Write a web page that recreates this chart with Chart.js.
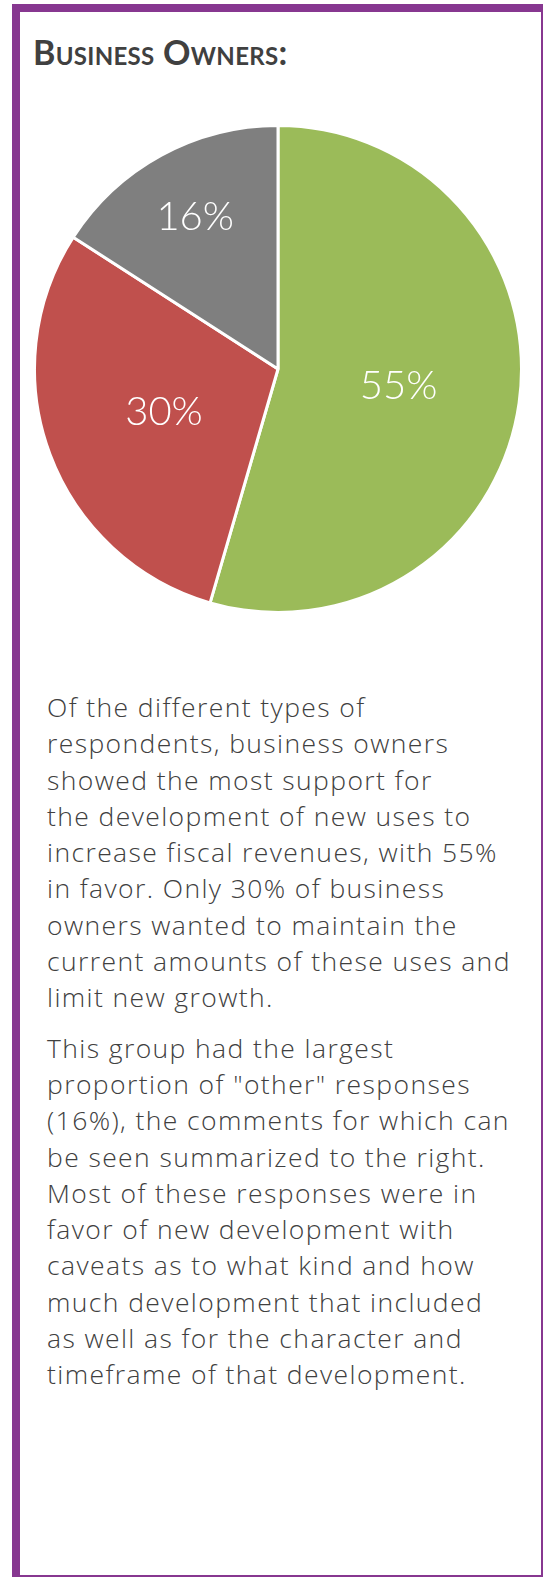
<!DOCTYPE html>
<html>
<head>
<meta charset="utf-8">
<script src="https://cdn.jsdelivr.net/npm/chart.js@4"></script>
<style>
  html, body { margin: 0; padding: 0; background: #fff; }
  body { width: 543px; height: 1577px; position: relative; overflow: hidden; }
  .panel {
    position: absolute; left: 12px; top: 4px; width: 521px; height: 1563px;
    border-left: 8px solid #873790; border-top: 8px solid #873790;
    border-right: 2px solid #873790; border-bottom: 2px solid #873790;
  }
  h2 {
    position: absolute; left: 13px; top: 19px; margin: 0;
    font: bold 34px "Lato", "Open Sans", sans-serif; font-variant: small-caps;
    color: #404040; letter-spacing: 0.3px;
  }
  .chart-wrap { position: absolute; left: 9px; top: 108px; width: 498px; height: 498px; }
  .copy {
    position: absolute; left: 27px; top: 677px;
    font: 300 26.5px "Open Sans", "Lato", sans-serif; color: #404040;
    letter-spacing: 1.4px; line-height: 36.3px; white-space: nowrap;
  }
  .copy p { margin: 0 0 14px 0; }
</style>
</head>
<body>
<div class="panel">
  <h2>Business Owners:</h2>
  <div class="chart-wrap"><canvas id="pie"></canvas></div>
  <div class="copy">
    <p>Of the different types of<br>respondents, business owners<br>showed the most support for<br>the development of new uses to<br>increase fiscal revenues, with 55%<br>in favor. Only 30% of business<br>owners wanted to maintain the<br>current amounts of these uses and<br>limit new growth.</p>
    <p>This group had the largest<br>proportion of "other" responses<br>(16%), the comments for which can<br>be seen summarized to the right.<br>Most of these responses were in<br>favor of new development with<br>caveats as to what kind and how<br>much development that included<br>as well as for the character and<br>timeframe of that development.</p>
  </div>
</div>
<script>
// Survey answers, business owners (share of responses, %)
const categories = ["Develop new uses", "Maintain current amounts", "Other"];
const shares = [54.5, 29.6, 15.9];
const colors = ["#9BBB59", "#C0504D", "#7F7F7F"];
// how far out (fraction of radius) each percentage label sits
const labelRadius = [0.5, 0.5, 0.71];

const pctLabels = {
  id: "pctLabels",
  afterDatasetsDraw(chart) {
    const ctx = chart.ctx;
    const meta = chart.getDatasetMeta(0);
    ctx.save();
    ctx.fillStyle = "#fff";
    ctx.font = '300 40px "Lato", "Open Sans", sans-serif';
    ctx.textAlign = "center";
    ctx.textBaseline = "middle";
    meta.data.forEach((arc, i) => {
      const p = arc.getProps(["x", "y", "startAngle", "endAngle", "outerRadius"], true);
      const mid = (p.startAngle + p.endAngle) / 2;
      const r = p.outerRadius * labelRadius[i];
      ctx.fillText(Math.round(shares[i]) + "%", p.x + Math.cos(mid) * r, p.y + Math.sin(mid) * r);
    });
    ctx.restore();
  }
};

new Chart(document.getElementById("pie"), {
  type: "pie",
  data: {
    labels: categories,
    datasets: [{ data: shares, backgroundColor: colors, borderColor: "#fff", borderWidth: 3 }]
  },
  options: {
    responsive: true,
    maintainAspectRatio: false,
    animation: false,
    layout: { padding: 4 },
    plugins: { legend: { display: false }, tooltip: { enabled: false } }
  },
  plugins: [pctLabels]
});
</script>
</body>
</html>
